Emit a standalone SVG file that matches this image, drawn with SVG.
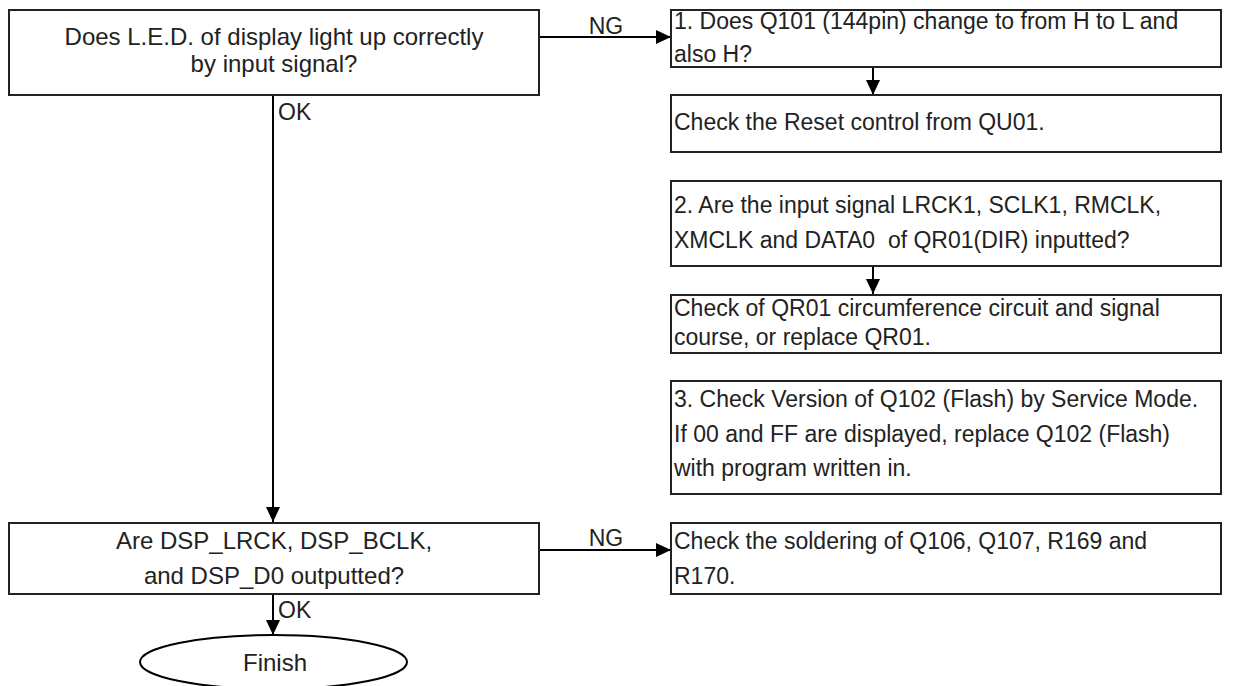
<svg xmlns="http://www.w3.org/2000/svg" width="1241" height="686" viewBox="0 0 1241 686">
<style>
.box{fill:#fff;stroke:#222;stroke-width:2}
.t{font-family:"Liberation Sans",Arial,sans-serif;font-size:23px;fill:#222}
.l{font-size:24px}
.c{text-anchor:middle}
.ln{stroke:#000;stroke-width:2;fill:none}
</style>
<defs>
<marker id="ah" markerWidth="15" markerHeight="14" refX="15" refY="7" orient="auto" markerUnits="userSpaceOnUse">
<path d="M0,0 L15,7 L0,14 Z" fill="#000"/>
</marker>
</defs>
<rect width="1241" height="686" fill="#fff"/>
<g id="connectors">
<line class="ln" x1="540" y1="37" x2="671" y2="37" marker-end="url(#ah)"/>
<text class="t" x="606" y="34" text-anchor="middle">NG</text>
<line class="ln" x1="273" y1="95" x2="273" y2="522" marker-end="url(#ah)"/>
<text class="t" x="278" y="120">OK</text>
<line class="ln" x1="873" y1="67" x2="873" y2="95" marker-end="url(#ah)"/>
<line class="ln" x1="873" y1="266" x2="873" y2="294" marker-end="url(#ah)"/>
<line class="ln" x1="540" y1="550" x2="671" y2="550" marker-end="url(#ah)"/>
<text class="t" x="606" y="546" text-anchor="middle">NG</text>
<line class="ln" x1="273" y1="594" x2="273" y2="635" marker-end="url(#ah)"/>
<text class="t" x="278" y="618">OK</text>
</g>
<g id="n1">
<rect class="box" x="9" y="10" width="530" height="85"/>
<text class="t l c" x="274" y="45">Does L.E.D. of display light up correctly</text>
<text class="t l c" x="274" y="72">by input signal?</text>
</g>
<g id="n2">
<rect class="box" x="671" y="10" width="550" height="57"/>
<text class="t" x="674" y="29">1. Does Q101 (144pin) change to from H to L and</text>
<text class="t" x="674" y="62">also H?</text>
</g>
<g id="n3">
<rect class="box" x="671" y="95" width="550" height="57"/>
<text class="t" x="674" y="130">Check the Reset control from QU01.</text>
</g>
<g id="n4">
<rect class="box" x="671" y="181" width="550" height="85"/>
<text class="t" x="674" y="213">2. Are the input signal LRCK1, SCLK1, RMCLK,</text>
<text class="t" x="674" y="248">XMCLK and DATA0&#160; of QR01(DIR) inputted?</text>
</g>
<g id="n5">
<rect class="box" x="671" y="295" width="550" height="58"/>
<text class="t" x="674" y="316">Check of QR01 circumference circuit and signal</text>
<text class="t" x="674" y="345">course, or replace QR01.</text>
</g>
<g id="n6">
<rect class="box" x="671" y="381" width="550" height="113"/>
<text class="t" x="674" y="407">3. Check Version of Q102 (Flash) by Service Mode.</text>
<text class="t" x="674" y="442">If 00 and FF are displayed, replace Q102 (Flash)</text>
<text class="t" x="674" y="476">with program written in.</text>
</g>
<g id="n7">
<rect class="box" x="9" y="523" width="530" height="71"/>
<text class="t l c" x="274" y="549">Are DSP_LRCK, DSP_BCLK,</text>
<text class="t l c" x="274" y="584">and DSP_D0 outputted?</text>
</g>
<g id="n8">
<rect class="box" x="671" y="523" width="550" height="71"/>
<text class="t" x="674" y="549">Check the soldering of Q106, Q107, R169 and</text>
<text class="t" x="674" y="584">R170.</text>
</g>
<g id="n9">
<ellipse cx="273.5" cy="662" rx="133.5" ry="27" fill="#fff" stroke="#000" stroke-width="2"/>
<text class="t l c" x="275" y="671">Finish</text>
</g>
</svg>
